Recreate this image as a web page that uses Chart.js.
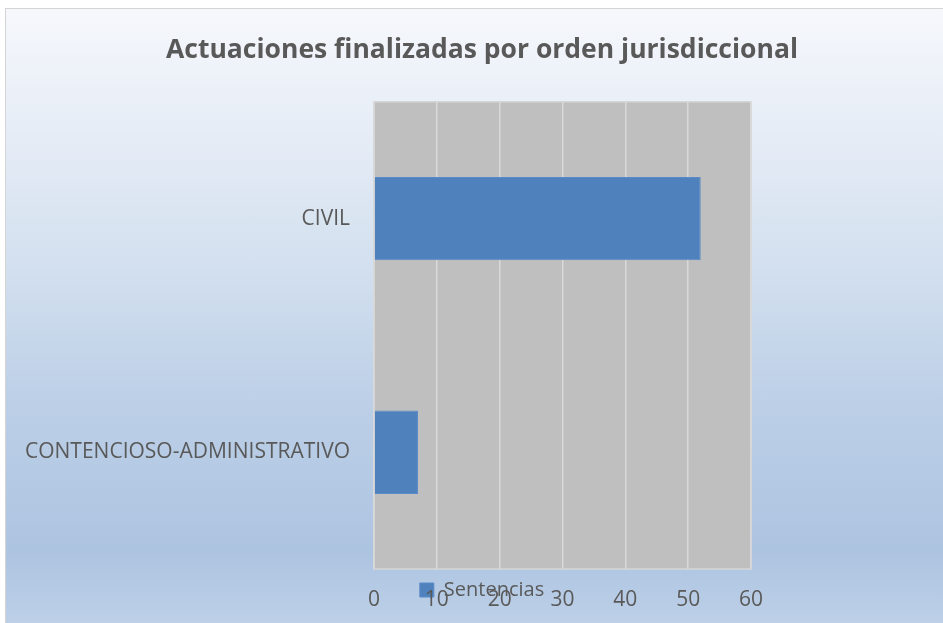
<!DOCTYPE html>
<html>
<head>
<meta charset="utf-8">
<script src="https://cdn.jsdelivr.net/npm/chart.js@4"></script>
<style>
  html, body { margin: 0; padding: 0; width: 943px; height: 623px; overflow: hidden; background: #ffffff; }
  .frame {
    position: absolute; left: 5px; top: 8px; width: 990px; height: 640px;
    border: 1px solid #d4d4d4;
    background: linear-gradient(to bottom, #f6f8fc 0%, #e8eef7 17%, #d3e0ef 40%, #bccfe7 62%, #adc4e1 85%, #c3d4ea 100%);
  }
  .wrap { position: absolute; left: 0; top: 0; width: 964px; height: 660px; }
</style>
</head>
<body>
<div class="frame"></div>
<div class="wrap"><canvas id="chart"></canvas></div>
<script>
const categories = ["CIVIL", "CONTENCIOSO-ADMINISTRATIVO"];
const sentencias = [52, 7];
const seriesName = "Sentencias";
const chartTitle = "Actuaciones finalizadas por orden jurisdiccional";
const xMin = 0;
const xMax = 60;
const xStep = 10;

const textColor = "#595959";

// grey plot area with a light frame, like the office chart
const plotBackground = {
  id: "plotBackground",
  beforeDraw(chart) {
    const { ctx, chartArea } = chart;
    ctx.save();
    ctx.fillStyle = "#bfbfbf";
    ctx.fillRect(chartArea.left, chartArea.top, chartArea.right - chartArea.left, chartArea.bottom - chartArea.top);
    ctx.strokeStyle = "#d6d6d6";
    ctx.lineWidth = 1.5;
    ctx.strokeRect(chartArea.left, chartArea.top, chartArea.right - chartArea.left, chartArea.bottom - chartArea.top);
    ctx.restore();
  },
};

// the legend sits over the x tick labels in the reference, so pull it up
const legendOverlap = {
  id: "legendOverlap",
  afterLayout(chart) {
    const legend = chart.legend;
    if (!legend) return;
    const h = legend.height;
    legend.top = chart.chartArea.bottom + 5;
    legend.bottom = legend.top + h;
  },
};

const ctx = document.getElementById("chart").getContext("2d");
new Chart(ctx, {
  type: "bar",
  data: {
    labels: categories,
    datasets: [
      {
        label: seriesName,
        data: sentencias,
        backgroundColor: "#4f81bd",
        borderColor: "#5a8bc8",
        borderWidth: 1,
        barPercentage: 0.714,
        categoryPercentage: 0.5,
      },
    ],
  },
  options: {
    indexAxis: "y",
    responsive: true,
    maintainAspectRatio: false,
    animation: false,
    layout: { padding: 0 },
    scales: {
      x: {
        min: xMin,
        max: xMax,
        ticks: {
          stepSize: xStep,
          color: textColor,
          font: { family: "'Open Sans'", size: 21 },
          padding: 18,
        },
        grid: { color: "#d9d9d9", lineWidth: 1.5, drawTicks: false },
        border: { display: false },
        afterFit(scale) { scale.height = 55; },
      },
      y: {
        ticks: {
          color: textColor,
          font: { family: "'Open Sans'", size: 21 },
          padding: 24,
        },
        grid: { display: false, drawTicks: false },
        border: { display: false },
        afterFit(scale) { scale.width = 374; },
      },
      yRight: {
        type: "linear",
        axis: "y",
        position: "right",
        display: true,
        ticks: { display: false },
        grid: { display: false, drawTicks: false },
        border: { display: false },
        afterFit(scale) { scale.width = 213; },
      },
    },
    plugins: {
      title: {
        display: true,
        text: chartTitle,
        color: textColor,
        font: { family: "'Open Sans'", size: 26.5, weight: "bold" },
        padding: { top: 35, bottom: 35 },
      },
      legend: {
        display: true,
        position: "bottom",
        labels: {
          color: textColor,
          font: { family: "'Open Sans'", size: 20 },
          boxWidth: 14,
          boxHeight: 14,
          padding: 6,
        },
      },
      tooltip: { enabled: false },
    },
  },
  plugins: [plotBackground, legendOverlap],
});
</script>
</body>
</html>
